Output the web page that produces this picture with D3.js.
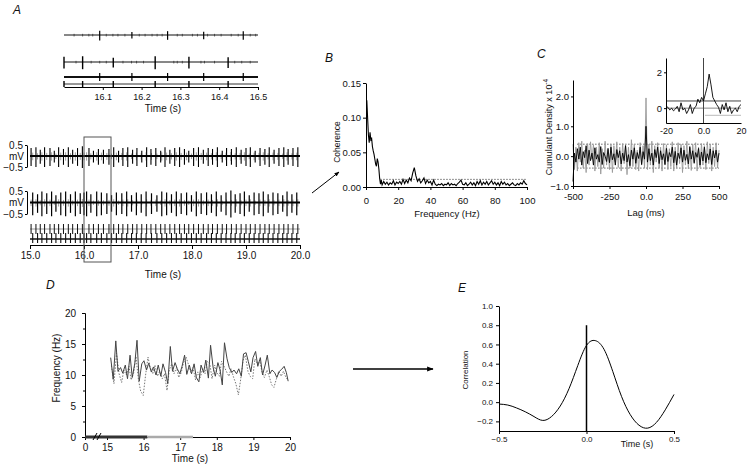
<!DOCTYPE html>
<html>
<head>
<meta charset="utf-8">
<script src="https://cdn.jsdelivr.net/npm/d3@7"></script>
<style>
body { margin: 0; background: #fff; }
svg { font-family: "Liberation Sans", Arial, sans-serif; }
.axis path, .axis line { stroke: #000; stroke-width: 1; }
.axis text { fill: #111; }
</style>
</head>
<body>
<svg id="fig" width="750" height="472"></svg>
<script>

// ---- A: spike times (s) and peak amplitude (mV) of the two units
var unit1 = [[15.02,0.45],[15.11,0.5],[15.19,0.35],[15.27,0.5],[15.37,0.45],[15.45,0.3],[15.53,0.5],[15.62,0.4],[15.71,0.5],[15.79,0.35],
  [15.88,0.45],[15.97,0.55],[16.092,0.45],[16.175,0.3],[16.267,0.4],[16.36,0.35],[16.462,0.4],[16.55,0.5],[16.64,0.3],[16.72,0.45],
  [16.81,0.5],[16.90,0.35],[16.98,0.45],[17.07,0.3],[17.16,0.5],[17.24,0.4],[17.33,0.45],[17.42,0.3],[17.50,0.5],[17.59,0.35],
  [17.68,0.45],[17.77,0.5],[17.86,0.4],[17.94,0.3],[18.03,0.45],[18.12,0.5],[18.21,0.35],[18.30,0.45],[18.38,0.4],[18.47,0.5],
  [18.56,0.3],[18.64,0.45],[18.73,0.4],[18.82,0.5],[18.91,0.35],[19.00,0.45],[19.08,0.5],[19.17,0.3],[19.26,0.45],[19.35,0.4],
  [19.43,0.5],[19.52,0.35],[19.61,0.45],[19.70,0.5],[19.78,0.4],[19.87,0.45],[19.96,0.5]];
var unit2 = [[15.05,0.55],[15.14,0.45],[15.22,0.6],[15.31,0.5],[15.40,0.6],[15.48,0.4],[15.57,0.55],[15.66,0.6],[15.75,0.45],[15.84,0.6],
  [15.93,0.5],[16.00,0.55],[16.048,0.6],[16.127,0.45],[16.235,0.6],[16.322,0.55],[16.423,0.5],[16.51,0.4],[16.60,0.55],[16.70,0.5],
  [16.79,0.6],[16.88,0.4],[16.97,0.55],[17.06,0.45],[17.15,0.6],[17.25,0.5],[17.35,0.4],[17.44,0.6],[17.53,0.55],[17.62,0.45],
  [17.71,0.6],[17.80,0.5],[17.90,0.55],[17.99,0.4],[18.08,0.6],[18.17,0.5],[18.27,0.55],[18.36,0.45],[18.45,0.6],[18.54,0.4],
  [18.63,0.55],[18.72,0.65],[18.80,0.45],[18.89,0.5],[18.97,0.6],[19.06,0.4],[19.15,0.55],[19.24,0.5],[19.32,0.6],[19.41,0.45],
  [19.50,0.55],[19.59,0.5],[19.68,0.4],[19.76,0.6],[19.85,0.45],[19.94,0.55]];
// small events visible in the expanded 16.0-16.5 s traces
var small1 = [16.026,16.048,16.064,16.074,16.109,16.126,16.139,16.157,16.194,16.209,16.227,16.24,16.253,16.292,16.305,16.331,16.344,16.37,16.388,16.405,16.431,16.449,16.48,16.494];
var small2 = [16.031,16.07,16.092,16.109,16.152,16.174,16.187,16.205,16.283,16.292,16.305,16.353,16.362,16.388,16.44,16.458,16.48];
var ticksMain = [15, 16, 17, 18, 19, 20];
var ticksInset = [16.1, 16.2, 16.3, 16.4, 16.5];
var zoomWindow = [16.0, 16.5];

// ---- B: coherence spectrum [Hz, coherence]
var coherence = [[0.5,0.125],[1,0.100],[1.5,0.075],[2,0.064],[2.5,0.079],[3,0.068],[3.5,0.070],[4,0.058],[4.5,0.052],[5,0.047],
  [5.5,0.040],[6,0.033],[6.5,0.030],[7,0.041],[7.5,0.036],[8,0.026],[8.5,0.012],[9,0.004],[9.5,0.010],[10,0.003],
  [11,0.008],[12,0.004],[13,0.007],[14,0.003],[15,0.006],[16,0.004],[17,0.009],[18,0.003],[19,0.007],[20,0.005],
  [21,0.008],[22,0.004],[23,0.011],[24,0.005],[25,0.010],[26,0.006],[27,0.013],[28,0.009],[29,0.020],[30,0.028],
  [31,0.016],[32,0.008],[33,0.012],[34,0.006],[35,0.009],[36,0.013],[37,0.005],[38,0.010],[39,0.006],[40,0.008],
  [41,0.003],[42,0.010],[43,0.004],[44,0.002],[45,0.004],[46,0.003],[47,0.005],[48,0.002],[49,0.004],[50,0.003],
  [51,0.006],[52,0.002],[53,0.005],[54,0.003],[55,0.004],[56,0.002],[57,0.005],[58,0.007],[59,0.010],[60,0.004],
  [61,0.003],[62,0.006],[63,0.002],[64,0.004],[65,0.007],[66,0.003],[67,0.006],[68,0.002],[69,0.008],[70,0.004],
  [71,0.009],[72,0.003],[73,0.007],[74,0.004],[75,0.008],[76,0.003],[77,0.006],[78,0.009],[79,0.004],[80,0.007],
  [81,0.003],[82,0.006],[83,0.002],[84,0.008],[85,0.004],[86,0.007],[87,0.003],[88,0.005],[89,0.002],[90,0.004],
  [91,0.006],[92,0.003],[93,0.002],[94,0.005],[95,0.003],[96,0.006],[97,0.004],[98,0.009],[99,0.005],[100,0.003]];
var cohLimit = 0.011;
var ticksB = [0, 20, 40, 60, 80, 100];
var ticksBy = [0, 0.05, 0.10, 0.15];

// ---- C: cumulant density (x 1e-4), lags -500..500 ms in 10 ms bins
var cumBlack = [-0.85,0.1,-0.2,0.25,-0.1,0.3,-0.3,0.15,-0.05,0.35,-0.25,0.2,-0.15,0.1,-0.3,0.28,-0.1,0.05,-0.2,0.32,
  -0.28,0.12,0.0,-0.18,0.26,-0.22,0.3,-0.12,0.08,-0.3,0.22,-0.05,0.18,-0.26,0.1,-0.15,0.35,-0.2,0.05,-0.32,
  0.2,-0.1,0.28,-0.24,0.12,-0.08,0.3,-0.28,0.15,-0.1,1.0,-0.2,0.25,-0.15,0.1,-0.3,0.22,-0.05,0.3,-0.25,
  0.18,-0.12,0.08,-0.28,0.26,-0.18,0.12,-0.02,0.3,-0.22,0.16,-0.3,0.1,-0.08,0.28,-0.2,0.2,-0.14,0.06,-0.26,
  0.32,-0.1,0.18,-0.24,0.12,-0.04,0.26,-0.3,0.14,-0.16,0.3,-0.22,0.08,-0.12,0.24,-0.28,0.18,-0.06,0.2,-0.2,0.1];
var cumGrey = [0.4,-0.45,0.3,-0.5,0.45,-0.2,0.5,-0.4,0.2,-0.55,0.42,-0.3,0.48,-0.1,0.38,-0.5,0.3,-0.35,0.45,-0.6,
  0.25,-0.4,0.5,-0.3,0.2,-0.45,0.4,-0.55,0.35,-0.2,0.48,-0.38,0.3,-0.5,0.42,-0.25,0.38,-0.62,0.3,-0.4,
  0.55,-0.35,0.4,-0.45,0.2,-0.5,0.45,-0.3,0.35,-0.4,1.95,-0.45,0.4,-0.3,0.5,-0.55,0.35,-0.2,0.45,-0.4,
  0.3,-0.5,0.42,-0.3,0.38,-0.45,0.25,-0.35,0.48,-0.5,0.3,-0.4,0.45,-0.25,0.4,-0.55,0.35,-0.3,0.5,-0.42,
  0.28,-0.48,0.4,-0.2,0.45,-0.5,0.3,-0.38,0.42,-0.3,0.35,-0.45,0.48,-0.25,0.4,-0.5,0.3,-0.35,0.45,-0.4,0.2];
var cumLimits = [0.4, -0.4];
var ticksC = [-500, -250, 0, 250, 500];
var ticksCy = [-1, 0, 1, 2];
// inset: -20..20 ms in 1 ms bins
var cumInset = [0.1,0.05,-0.1,0.0,-0.15,-0.05,0.1,-0.2,0.3,-0.1,0.0,-0.3,-0.1,0.2,-0.3,0.0,0.1,0.5,0.3,0.6,
  0.4,0.8,1.2,1.9,1.3,0.6,0.4,0.2,0.05,-0.3,0.2,-0.1,0.3,-0.2,0.1,-0.3,-0.1,0.0,-0.2,0.1,0.2];
var ticksCi = [-20, 0, 20];
var ticksCiy = [0, 2];

// ---- D: instantaneous frequency [s, Hz]
var freqSolid = [[15.10,12.8],[15.17,9.3],[15.24,15.5],[15.30,10.6],[15.37,11.2],[15.43,10.3],[15.50,11.6],[15.56,9.4],[15.63,13.2],[15.69,9.6],
  [15.76,11.9],[15.82,15.6],[15.88,9.0],[15.95,11.8],[16.01,12.3],[16.08,10.8],[16.14,11.9],[16.21,10.5],[16.27,11.3],[16.34,10.0],
  [16.40,11.6],[16.47,9.8],[16.53,11.8],[16.60,10.4],[16.66,8.6],[16.73,14.6],[16.79,10.6],[16.86,12.0],[16.92,11.0],[16.99,10.2],
  [17.05,11.4],[17.12,13.2],[17.18,10.1],[17.25,11.6],[17.31,10.2],[17.38,11.8],[17.44,9.6],[17.51,8.9],[17.57,11.6],[17.64,10.4],
  [17.70,12.4],[17.77,9.5],[17.83,14.8],[17.90,11.2],[17.96,9.8],[18.03,12.0],[18.09,10.8],[18.15,8.4],[18.21,15.2],[18.28,12.6],
  [18.34,11.2],[18.41,10.4],[18.47,10.8],[18.54,10.2],[18.60,11.0],[18.67,9.8],[18.73,13.4],[18.80,13.6],[18.86,12.2],[18.93,10.5],
  [18.99,12.8],[19.06,13.8],[19.12,11.4],[19.19,12.8],[19.25,10.0],[19.32,11.6],[19.38,13.2],[19.45,10.2],[19.51,10.8],[19.58,10.4],
  [19.64,9.6],[19.71,10.6],[19.77,10.9],[19.84,11.4],[19.90,10.4],[19.95,9.0]];
var freqDotted = [[15.12,11.5],[15.19,8.6],[15.26,13.5],[15.33,10.2],[15.40,8.8],[15.46,10.8],[15.53,10.0],[15.60,11.4],[15.66,9.2],[15.73,10.4],
  [15.79,13.0],[15.86,9.2],[15.92,7.4],[15.99,6.7],[16.05,9.8],[16.12,12.9],[16.18,11.2],[16.25,10.2],[16.31,11.6],[16.38,9.8],
  [16.44,10.6],[16.51,9.4],[16.57,10.2],[16.64,7.5],[16.70,10.8],[16.77,11.8],[16.83,10.2],[16.90,11.2],[16.96,9.6],[17.03,10.4],
  [17.09,12.0],[17.16,12.9],[17.22,11.8],[17.29,10.4],[17.35,11.2],[17.42,9.2],[17.48,10.5],[17.55,9.6],[17.61,11.0],[17.68,10.2],
  [17.74,12.2],[17.81,11.8],[17.87,9.4],[17.94,11.6],[18.00,10.4],[18.07,9.8],[18.13,12.2],[18.20,11.4],[18.26,10.6],[18.33,9.8],
  [18.39,11.0],[18.46,9.6],[18.52,8.6],[18.59,6.8],[18.65,9.2],[18.72,12.4],[18.78,13.2],[18.85,10.6],[18.91,9.8],[18.98,9.4],
  [19.04,12.6],[19.11,11.8],[19.17,12.4],[19.24,10.4],[19.30,9.6],[19.37,10.8],[19.43,9.8],[19.50,8.4],[19.56,8.0],[19.63,9.4],
  [19.69,10.6],[19.76,9.8],[19.82,10.6],[19.89,9.6],[19.95,9.2]];
var zeroDark = [[0,0],[16.1,0]];
var zeroLight = [[16.1,0],[17.35,0]];
var ticksD = [0, 15, 16, 17, 18, 19, 20];
var ticksDy = [0, 5, 10, 15, 20];
var minorDy = [2.5, 7.5, 12.5, 17.5];

// ---- E: cross-correlation of the frequency traces [s, r]
var correlation = [[-0.50,-0.02],[-0.45,-0.03],[-0.40,-0.06],[-0.35,-0.10],[-0.30,-0.15],[-0.25,-0.19],[-0.20,-0.15],[-0.15,-0.04],
  [-0.10,0.14],[-0.05,0.38],[0.00,0.59],[0.05,0.64],[0.10,0.55],[0.15,0.32],[0.20,0.06],[0.25,-0.13],[0.30,-0.24],
  [0.35,-0.27],[0.40,-0.21],[0.45,-0.08],[0.50,0.08]];
var ticksE = [-0.5, 0, 0.5];
var ticksEy = [-0.2, 0, 0.2, 0.4, 0.6, 0.8, 1.0];

var svg = d3.select("#fig");
svg.append("rect").attr("width", 750).attr("height", 472).attr("fill", "#fff");

var defs = svg.append("defs");
defs.append("marker").attr("id", "head")
    .attr("viewBox", "0 0 10 10").attr("refX", 9).attr("refY", 5)
    .attr("markerWidth", 5).attr("markerHeight", 5).attr("orient", "auto")
  .append("path").attr("d", "M0,1L10,5L0,9Z").attr("fill", "#000");

function letter(x, y, t) {
  svg.append("text").attr("x", x).attr("y", y).attr("font-size", 12)
     .attr("font-style", "italic").attr("fill", "#111").text(t);
}
function axisG(axis, tx, ty, fs) {
  var g = svg.append("g").attr("class", "axis")
     .attr("transform", "translate(" + tx + "," + ty + ")").call(axis);
  g.attr("font-family", null).attr("font-size", fs);
  return g;
}
function title(x, y, t, fs, rot) {
  return svg.append("text").attr("text-anchor", "middle").attr("font-size", fs).attr("fill", "#111")
     .attr("transform", "translate(" + x + "," + y + ")" + (rot ? " rotate(-90)" : "")).text(t);
}
function spikes(g, data, x, y, k, color, w) {
  g.selectAll(null).data(data).enter().append("line")
    .attr("x1", function(d) { return x(d[0]); }).attr("x2", function(d) { return x(d[0]); })
    .attr("y1", function(d) { return y(d[1] * k * 0.8); })
    .attr("y2", function(d) { return y(-d[1] * k); })
    .attr("stroke", color).attr("stroke-width", w);
}
function raster(g, data, x, y0, h, color, w) {
  g.selectAll(null).data(data).enter().append("line")
    .attr("x1", function(d) { return x(d[0]); }).attr("x2", function(d) { return x(d[0]); })
    .attr("y1", y0 - h).attr("y2", y0 + h)
    .attr("stroke", color).attr("stroke-width", w);
}
function inWin(d) { return d[0] >= zoomWindow[0] && d[0] <= zoomWindow[1]; }

// ================= A (expanded inset)
letter(13, 14, "A");
var xI = d3.scaleLinear().domain(zoomWindow).range([64, 258]);
var yI1 = d3.scaleLinear().domain([-0.5, 0.5]).range([41, 29]);
var yI2 = d3.scaleLinear().domain([-0.5, 0.5]).range([68, 56]);
var gI = svg.append("g");
gI.append("line").attr("x1", 64).attr("x2", 258).attr("y1", yI1(0)).attr("y2", yI1(0)).attr("stroke", "#111").attr("stroke-width", 1);
gI.append("line").attr("x1", 64).attr("x2", 258).attr("y1", yI2(0)).attr("y2", yI2(0)).attr("stroke", "#111").attr("stroke-width", 1);
spikes(gI, small1.map(function(t) { return [t, 0.12]; }), xI, yI1, 1, "#333", 0.8);
spikes(gI, small2.map(function(t) { return [t, 0.12]; }), xI, yI2, 1, "#333", 0.8);
spikes(gI, unit1.filter(inWin), xI, yI1, 1, "#000", 1.2);
spikes(gI, unit2.filter(inWin), xI, yI2, 1, "#000", 1.4);
gI.append("line").attr("x1", 64).attr("x2", 258).attr("y1", 77).attr("y2", 77).attr("stroke", "#111").attr("stroke-width", 2);
gI.append("line").attr("x1", 64).attr("x2", 258).attr("y1", 84).attr("y2", 84).attr("stroke", "#333").attr("stroke-width", 1);
raster(gI, unit1.filter(inWin), xI, 77, 4, "#000", 1.2);
raster(gI, unit2.filter(inWin), xI, 84, 3, "#000", 1.4);
axisG(d3.axisBottom(xI).tickValues(ticksInset).tickSize(3).tickSizeOuter(0).tickPadding(4)
      .tickFormat(d3.format(".1f")), 0, 87, 9);
title(163, 112, "Time (s)", 10);

// ================= A (full traces)
var xA = d3.scaleLinear().domain([15, 20]).range([30, 300]);
var yA1 = d3.scaleLinear().domain([-0.5, 0.5]).range([167, 145]);
var yA2 = d3.scaleLinear().domain([-0.5, 0.5]).range([214, 191]);
var gA = svg.append("g");
spikes(gA, unit2, xA, yA1, 0.35, "#888", 0.8);
spikes(gA, unit1, xA, yA2, 0.35, "#888", 0.8);
gA.append("line").attr("x1", 30).attr("x2", 300).attr("y1", yA1(0)).attr("y2", yA1(0)).attr("stroke", "#000").attr("stroke-width", 2.2);
gA.append("line").attr("x1", 30).attr("x2", 300).attr("y1", yA2(0)).attr("y2", yA2(0)).attr("stroke", "#000").attr("stroke-width", 2.2);
spikes(gA, unit1, xA, yA1, 1, "#000", 1.1);
spikes(gA, unit2, xA, yA2, 1, "#000", 1.2);
gA.append("line").attr("x1", 30).attr("x2", 300).attr("y1", 229).attr("y2", 229).attr("stroke", "#999").attr("stroke-width", 1);
gA.append("line").attr("x1", 30).attr("x2", 300).attr("y1", 239).attr("y2", 239).attr("stroke", "#111").attr("stroke-width", 1.4);
raster(gA, unit1, xA, 229, 5, "#111", 1);
raster(gA, unit2, xA, 238, 5, "#111", 1.1);
axisG(d3.axisBottom(xA).tickValues(ticksMain).tickSize(4).tickSizeOuter(0).tickPadding(3)
      .tickFormat(d3.format(".1f")), 0, 245, 10);
title(163, 278, "Time (s)", 10);
// voltage scale bars
[yA1, yA2].forEach(function(y) {
  var g = axisG(d3.axisLeft(y).tickValues([-0.5, 0.5]).tickSize(2).tickSizeOuter(0).tickPadding(2)
        .tickFormat(d3.format(".1f")), 27, 0, 10);
  svg.append("text").attr("x", 24).attr("y", y(0) + 3.5).attr("text-anchor", "end")
     .attr("font-size", 10).attr("fill", "#111").text("mV");
});
// zoom window box
svg.append("rect").attr("x", xA(zoomWindow[0])).attr("y", 137)
   .attr("width", xA(zoomWindow[1]) - xA(zoomWindow[0])).attr("height", 125)
   .attr("fill", "none").attr("stroke", "#555").attr("stroke-width", 1);

// arrows
svg.append("line").attr("x1", 312).attr("y1", 193).attr("x2", 339).attr("y2", 172)
   .attr("stroke", "#000").attr("stroke-width", 1).attr("marker-end", "url(#head)");
svg.append("line").attr("x1", 353).attr("y1", 369).attr("x2", 433).attr("y2", 369)
   .attr("stroke", "#000").attr("stroke-width", 1.3).attr("marker-end", "url(#head)");

// ================= B
letter(325, 62, "B");
var xB = d3.scaleLinear().domain([0, 100]).range([366, 527]);
var yB = d3.scaleLinear().domain([0, 0.15]).range([187, 83]);
svg.append("line").attr("x1", xB(9)).attr("x2", xB(100)).attr("y1", yB(cohLimit)).attr("y2", yB(cohLimit))
   .attr("stroke", "#222").attr("stroke-width", 1).attr("stroke-dasharray", "1,2");
svg.append("path").datum(coherence)
   .attr("d", d3.line().x(function(d) { return xB(d[0]); }).y(function(d) { return yB(d[1]); }))
   .attr("fill", "none").attr("stroke", "#000").attr("stroke-width", 1.1);
axisG(d3.axisLeft(yB).tickValues(ticksBy).tickSize(3).tickSizeOuter(0).tickPadding(2)
      .tickFormat(d3.format(".2f")), 366, 0, 9.5);
axisG(d3.axisBottom(xB).tickValues(ticksB).tickSize(3).tickSizeOuter(0).tickPadding(7), 0, 187, 9.5);
title(447, 217, "Frequency (Hz)", 9.5);
title(339.5, 142, "Coherence", 8.5, true);

// ================= C
letter(537, 58, "C");
var xC = d3.scaleLinear().domain([-500, 500]).range([573, 719]);
var yC = d3.scaleLinear().domain([-1, 2.55]).range([186, 80]);
var lagOf = function(i, n) { return -500 + i * 1000 / (n - 1); };
cumLimits.forEach(function(v) {
  svg.append("line").attr("x1", xC(-470)).attr("x2", xC(500)).attr("y1", yC(v)).attr("y2", yC(v))
     .attr("stroke", "#222").attr("stroke-width", 1).attr("stroke-dasharray", "1,2");
});
var lineC = d3.line().x(function(d, i, a) { return xC(lagOf(i, a.length)); }).y(function(d) { return yC(d); });
svg.append("path").datum(cumGrey).attr("d", lineC).attr("fill", "none").attr("stroke", "#999").attr("stroke-width", 0.9);
svg.append("path").datum(cumBlack).attr("d", lineC).attr("fill", "none").attr("stroke", "#000").attr("stroke-width", 0.9);
axisG(d3.axisLeft(yC).tickValues(ticksCy).tickSize(2).tickSizeOuter(0).tickPadding(2)
      .tickFormat(d3.format(".1f")), 573, 0, 9.5);
axisG(d3.axisBottom(xC).tickValues(ticksC).tickSize(3).tickSizeOuter(0).tickPadding(4)
      .tickFormat(function(d) { return d === 0 ? "0.0" : d; }), 0, 186, 9.5);
title(646, 216, "Lag (ms)", 9.5);
var cl = svg.append("text").attr("text-anchor", "middle").attr("font-size", 9).attr("fill", "#111")
   .attr("transform", "translate(551.5,127) rotate(-90)");
cl.append("tspan").text("Cumulant Density x 10");
cl.append("tspan").attr("dy", -4).attr("font-size", 6.5).text("-4");

// C inset
var xCi = d3.scaleLinear().domain([-20, 20]).range([666, 741]);
var yCi = d3.scaleLinear().domain([-0.83, 2.8]).range([123, 58]);
svg.append("line").attr("x1", 666).attr("x2", 741).attr("y1", yCi(0)).attr("y2", yCi(0)).attr("stroke", "#888");
svg.append("line").attr("x1", 666).attr("x2", 741).attr("y1", yCi(cumLimits[0])).attr("y2", yCi(cumLimits[0])).attr("stroke", "#444");
svg.append("line").attr("x1", 705).attr("x2", 741).attr("y1", yCi(cumLimits[1])).attr("y2", yCi(cumLimits[1])).attr("stroke", "#bbb");
svg.append("line").attr("x1", xCi(0)).attr("x2", xCi(0)).attr("y1", 58).attr("y2", 123).attr("stroke", "#444");
svg.append("path").datum(cumInset)
   .attr("d", d3.line().x(function(d, i, a) { return xCi(-20 + i * 40 / (a.length - 1)); }).y(function(d) { return yCi(d); }))
   .attr("fill", "none").attr("stroke", "#000").attr("stroke-width", 0.9);
axisG(d3.axisLeft(yCi).tickValues(ticksCiy).tickSize(2).tickSizeOuter(0).tickPadding(2)
      .tickFormat(d3.format("d")), 666, 0, 9.5);
axisG(d3.axisBottom(xCi).tickValues(ticksCi).tickSize(0).tickSizeOuter(0).tickPadding(5)
      .tickFormat(function(d) { return d === 0 ? "0.0" : d; }), 0, 123, 9);

// ================= D
letter(46, 289, "D");
var xD = d3.scaleLinear().domain([0, 15, 20]).range([85, 107, 290]);
var yD = d3.scaleLinear().domain([0, 20]).range([437, 313]);
var lineD = d3.line().x(function(d) { return xD(d[0]); }).y(function(d) { return yD(d[1]); });
svg.append("path").datum(freqDotted).attr("d", lineD).attr("fill", "none")
   .attr("stroke", "#777").attr("stroke-width", 1).attr("stroke-dasharray", "1.5,1.5");
svg.append("path").datum(freqSolid).attr("d", lineD).attr("fill", "none")
   .attr("stroke", "#444").attr("stroke-width", 1);
axisG(d3.axisLeft(yD).tickValues(minorDy).tickSize(2).tickSizeOuter(0).tickFormat(""), 85, 0, 10);
axisG(d3.axisLeft(yD).tickValues(ticksDy).tickSize(3).tickSizeOuter(0).tickPadding(6), 85, 0, 10);
axisG(d3.axisBottom(xD).tickValues(ticksD).tickSize(3).tickSizeOuter(0).tickPadding(4), 0, 437, 10);
svg.append("path").datum(zeroDark).attr("d", lineD).attr("stroke", "#333").attr("stroke-width", 3);
svg.append("path").datum(zeroLight).attr("d", lineD).attr("stroke", "#aaa").attr("stroke-width", 2.5);
[93, 97].forEach(function(x) {
  svg.append("line").attr("x1", x).attr("y1", 440).attr("x2", x + 4).attr("y2", 433)
     .attr("stroke", "#000").attr("stroke-width", 1);
});
title(190, 462, "Time (s)", 10);
title(60, 368, "Frequency (Hz)", 10, true);

// ================= E
letter(458, 292, "E");
var xE = d3.scaleLinear().domain([-0.5, 0.5]).range([499, 674]);
var yE = d3.scaleLinear().domain([-0.3, 1.0]).range([431, 306]);
svg.append("line").attr("x1", xE(0)).attr("x2", xE(0)).attr("y1", yE(0.8)).attr("y2", yE(-0.3))
   .attr("stroke", "#000").attr("stroke-width", 1.5);
svg.append("path").datum(correlation)
   .attr("d", d3.line().curve(d3.curveNatural).x(function(d) { return xE(d[0]); }).y(function(d) { return yE(d[1]); }))
   .attr("fill", "none").attr("stroke", "#000").attr("stroke-width", 1);
axisG(d3.axisLeft(yE).tickValues(ticksEy).tickSize(3).tickSizeOuter(0).tickPadding(3)
      .tickFormat(d3.format(".1f")), 499, 0, 8);
axisG(d3.axisBottom(xE).tickValues(ticksE).tickSize(3).tickSizeOuter(0).tickPadding(2)
      .tickFormat(d3.format(".1f")), 0, 431, 8);
title(637, 446.5, "Time (s)", 9);
title(468, 370, "Correlation", 8, true);

</script>
</body>
</html>
